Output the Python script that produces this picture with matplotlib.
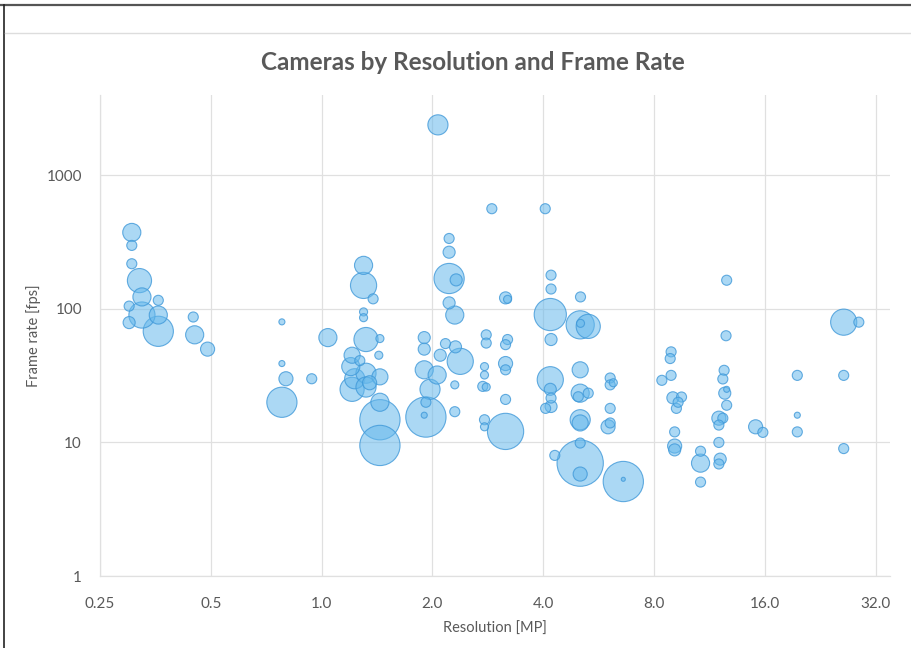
import matplotlib
matplotlib.use("Agg")
import matplotlib.pyplot as plt
from matplotlib.lines import Line2D
from matplotlib.ticker import FixedLocator, NullLocator

# camera data: resolution [MP], frame rate [fps], bubble weight
resolution = [
    0.305, 0.305, 0.305, 0.320, 0.325, 0.36, 0.30, 0.325, 0.36, 0.30, 0.36, 0.448, 0.452, 0.49,
    0.78, 1.04, 0.78, 0.80, 0.94, 0.78,
    1.30, 1.30, 1.38, 1.30, 1.30, 1.32, 1.44, 1.43, 1.21, 1.20, 1.23, 1.32, 1.44, 1.21, 1.32,
    1.44, 1.44, 1.44, 1.27, 1.35,
    2.07, 2.22, 2.22, 2.22, 2.32, 2.22, 2.30, 1.90, 1.90, 2.17, 2.31, 2.38, 1.90, 2.06, 1.97,
    1.92, 1.92, 1.90, 2.30, 2.30, 2.10,
    2.90, 3.16, 3.20, 2.80, 2.80, 3.20, 3.16, 2.77, 3.16, 3.16, 2.77, 2.74, 3.16, 2.77, 2.77,
    3.16, 2.80,
    4.05, 4.20, 4.20, 4.18, 4.20, 4.18, 4.18, 4.20, 4.06, 4.20, 4.30,
    5.05, 5.04, 5.30, 5.05, 5.04, 5.04, 5.30, 4.98, 5.04, 5.04, 5.04, 5.04, 5.04,
    6.08, 6.08, 6.20, 6.08, 6.00, 6.08, 6.60, 6.60,
    8.90, 8.85, 8.90, 8.40, 9.00, 9.50, 9.20, 9.10, 9.10, 9.10, 10.7, 10.7, 10.7, 9.30,
    12.6, 12.55, 12.4, 12.3, 12.45, 12.6, 12.0, 12.3, 12.0, 12.0, 12.1, 12.0, 12.6,
    15.1, 15.8,
    19.6, 19.6, 19.6,
    26.2, 28.8, 26.2, 26.2,
]
frame_rate = [
    374, 299, 218, 163, 123, 116, 105, 90, 90, 79, 68, 87, 64, 50,
    80, 61, 39, 30, 30, 20,
    212, 150, 119, 95, 86, 59, 60, 45, 45, 37, 30, 33, 31, 25, 26,
    20, 14.8, 9.5, 41, 28,
    2390, 337, 266, 169, 165, 111, 90, 61, 50, 55, 52, 40.5, 35, 32, 25,
    20, 15.5, 16, 27, 17, 45,
    563, 121, 118, 64, 55.5, 59, 54, 37, 39, 35, 32, 26.3, 21, 14.8, 13.1,
    12.1, 26,
    563, 179, 141, 90.8, 59, 29.5, 25, 21.5, 18, 18.6, 8.0,
    123, 76, 74, 78, 35, 23.4, 23.4, 22, 14.8, 14, 9.9, 7.0, 5.8,
    30.4, 27, 28, 18, 13.1, 14, 5.1, 5.3,
    47.7, 42.5, 31.8, 29.2, 21.6, 21.9, 18, 12, 9.4, 8.8, 8.6, 7.0, 5.05, 20,
    164, 63, 34.7, 29.9, 23.4, 19, 15.2, 15.2, 13.5, 10, 7.5, 6.9, 25,
    13.1, 11.9,
    31.8, 16, 12,
    79.6, 79.6, 31.8, 9.0,
]
weight = [
    81, 25, 25, 144, 81, 25, 25, 169, 81, 36, 225, 25, 81, 49,
    9, 81, 9, 49, 25, 225,
    81, 169, 25, 16, 16, 144, 16, 16, 64, 81, 100, 100, 64, 144, 100,
    81, 400, 400, 25, 49,
    100, 25, 36, 225, 36, 36, 81, 36, 36, 25, 36, 169, 81, 81, 100,
    25, 400, 9, 16, 25, 36,
    25, 36, 16, 25, 25, 25, 25, 16, 49, 25, 16, 25, 25, 25, 16,
    324, 16,
    25, 25, 25, 256, 36, 169, 36, 25, 25, 36, 25,
    25, 196, 144, 16, 64, 81, 25, 25, 100, 64, 25, 529, 49,
    25, 25, 16, 25, 49, 25, 400, 4,
    25, 25, 25, 25, 36, 25, 25, 25, 49, 36, 25, 81, 25, 25,
    25, 25, 25, 25, 36, 25, 49, 25, 25, 25, 36, 25, 9,
    49, 25,
    25, 9, 25,
    169, 25, 25, 25,
]

x_ticks = [0.25, 0.5, 1.0, 2.0, 4.0, 8.0, 16.0, 32.0]
x_tick_labels = ["0.25", "0.5", "1.0", "2.0", "4.0", "8.0", "16.0", "32.0"]
y_ticks = [1, 10, 100, 1000]
y_tick_labels = ["1", "10", "100", "1000"]

plt.rcParams["font.family"] = ["Lato", "DejaVu Sans"]
text_grey = "#595959"
grid_grey = "#e0e0e0"

fig = plt.figure(figsize=(9.11, 6.48), dpi=100)
ax = fig.add_axes([100 / 911, 1 - 576 / 648, 790 / 911, 481 / 648])

# big bubbles first so the small ones stay visible
order = sorted(range(len(weight)), key=lambda i: -weight[i])
xs = [resolution[i] for i in order]
ys = [frame_rate[i] for i in order]
ss = [2.1 * weight[i] for i in order]
ax.scatter(xs, ys, s=ss, facecolor=(0.40, 0.72, 0.92, 0.55),
           edgecolor=(0.25, 0.60, 0.85, 0.8), linewidth=0.8, zorder=3)

ax.set_xscale("log", base=2)
ax.set_yscale("log")
ax.set_xlim(0.25, 35)
ax.set_ylim(1, 4000)
ax.xaxis.set_major_locator(FixedLocator(x_ticks))
ax.xaxis.set_minor_locator(NullLocator())
ax.yaxis.set_major_locator(FixedLocator(y_ticks))
ax.yaxis.set_minor_locator(NullLocator())
ax.set_xticklabels(x_tick_labels)
ax.set_yticklabels(y_tick_labels)
ax.tick_params(axis="x", length=0, labelsize=11, labelcolor=text_grey, pad=15)
ax.tick_params(axis="y", length=0, labelsize=11, labelcolor=text_grey, pad=13)
ax.grid(True, color=grid_grey, linewidth=0.9, zorder=0)
for spine in ["top", "right"]:
    ax.spines[spine].set_visible(False)
for spine in ["left", "bottom"]:
    ax.spines[spine].set_color(grid_grey)
    ax.spines[spine].set_linewidth(0.9)

ax.set_xlabel("Resolution [MP]", fontsize=10.5, color=text_grey, labelpad=8)
ax.set_ylabel("Frame rate [fps]", fontsize=10.5, color=text_grey, labelpad=4)

fig.text(0.519, 1 - 62 / 648, "Cameras by Resolution and Frame Rate",
         ha="center", va="center", fontsize=17.5, fontweight="bold", color=text_grey)

# frame of the screenshot
fig.add_artist(Line2D([0, 1], [1 - 5 / 648, 1 - 5 / 648], color="#555555", linewidth=1.6))
fig.add_artist(Line2D([4 / 911, 4 / 911], [0, 1 - 5 / 648], color="#222222", linewidth=1.2))
fig.add_artist(Line2D([5 / 911, 1], [1 - 33 / 648, 1 - 33 / 648], color="#dddddd", linewidth=1.0))

fig.savefig("out.png", dpi=100)
